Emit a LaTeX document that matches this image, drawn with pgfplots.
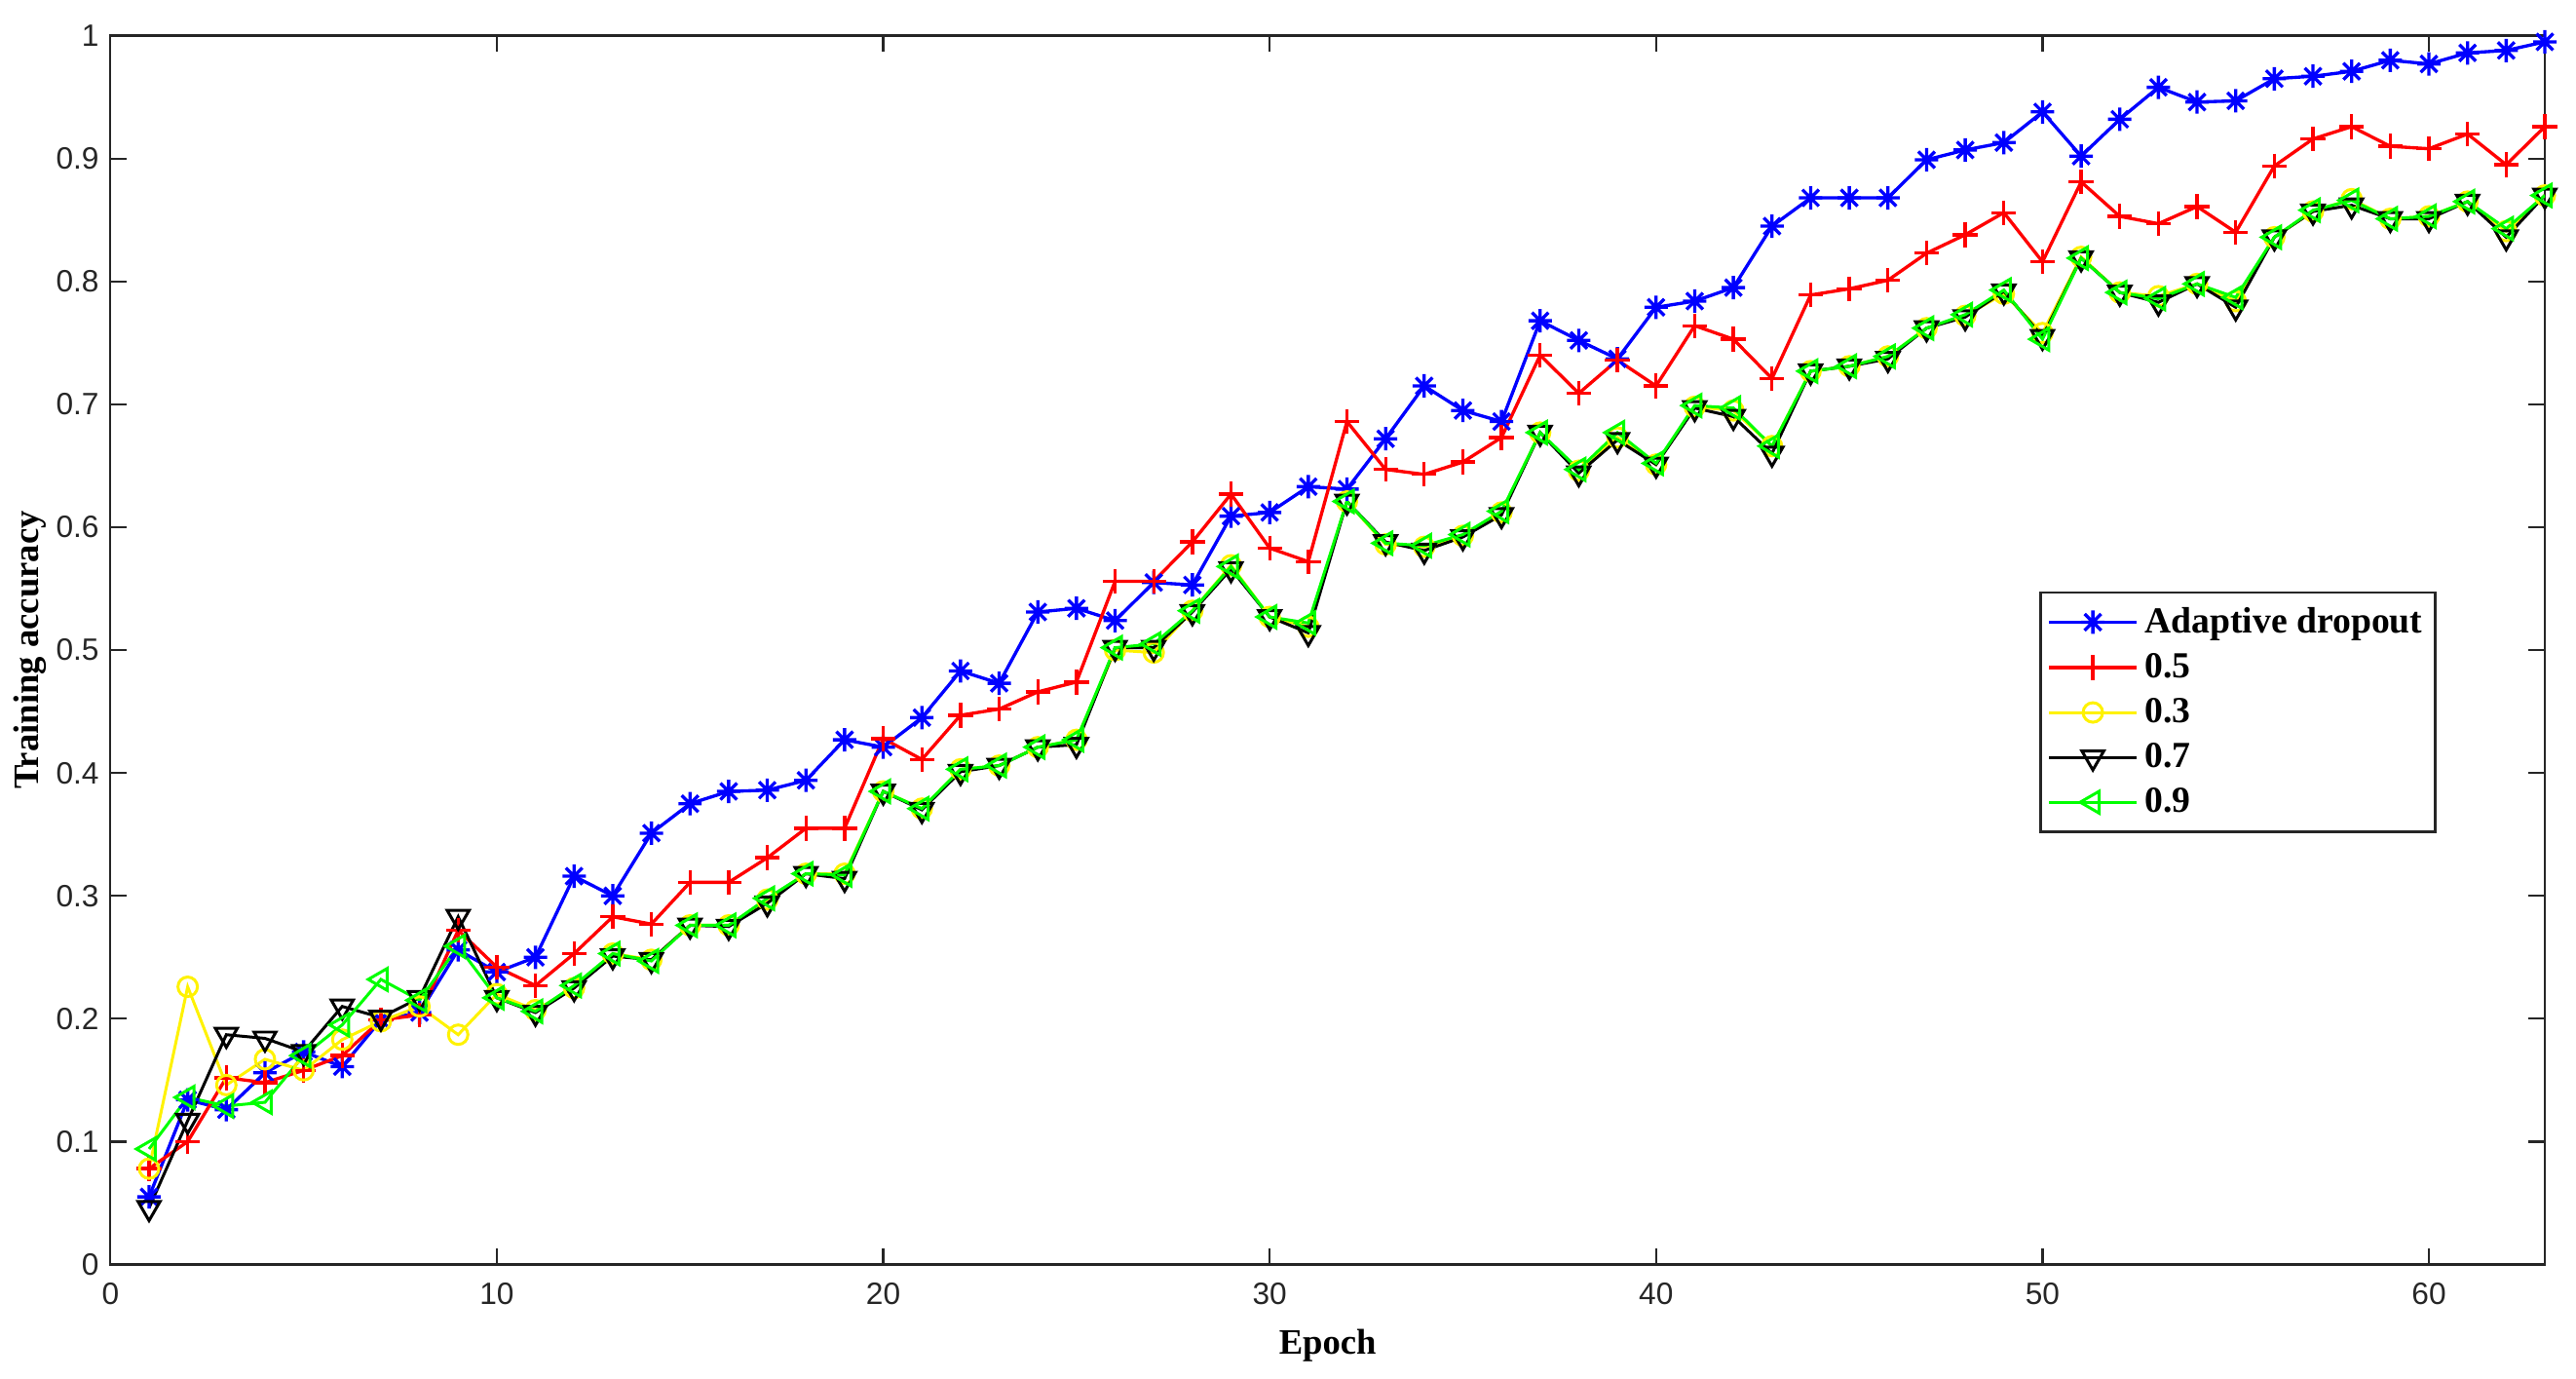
\documentclass[border=0pt]{standalone}
\usepackage{fontspec}
\setmainfont{Liberation Serif}
\newfontfamily\ticksans{Liberation Sans}
\usepackage{pgfplots}
\pgfplotsset{compat=1.18}
\usepackage{pgfplotstable}

% MATLAB style '*' marker: plus and cross together
\pgfdeclareplotmark{mstar}{%
  \pgfpathmoveto{\pgfqpoint{-\pgfplotmarksize}{0pt}}\pgfpathlineto{\pgfqpoint{\pgfplotmarksize}{0pt}}%
  \pgfpathmoveto{\pgfqpoint{0pt}{-\pgfplotmarksize}}\pgfpathlineto{\pgfqpoint{0pt}{\pgfplotmarksize}}%
  \pgfpathmoveto{\pgfqpoint{-0.707\pgfplotmarksize}{-0.707\pgfplotmarksize}}\pgfpathlineto{\pgfqpoint{0.707\pgfplotmarksize}{0.707\pgfplotmarksize}}%
  \pgfpathmoveto{\pgfqpoint{-0.707\pgfplotmarksize}{0.707\pgfplotmarksize}}\pgfpathlineto{\pgfqpoint{0.707\pgfplotmarksize}{-0.707\pgfplotmarksize}}%
  \pgfusepathqstroke}

\pgfplotstableread{
e acc
1 0.055
2 0.134
3 0.126
4 0.156
5 0.173
6 0.161
7 0.199
8 0.205
9 0.256
10 0.238
11 0.250
12 0.316
13 0.300
14 0.351
15 0.375
16 0.385
17 0.386
18 0.394
19 0.427
20 0.421
21 0.445
22 0.483
23 0.473
24 0.531
25 0.534
26 0.524
27 0.555
28 0.553
29 0.609
30 0.612
31 0.633
32 0.631
33 0.672
34 0.715
35 0.695
36 0.686
37 0.768
38 0.752
39 0.737
40 0.779
41 0.784
42 0.795
43 0.845
44 0.868
45 0.868
46 0.868
47 0.899
48 0.907
49 0.913
50 0.938
51 0.902
52 0.932
53 0.958
54 0.946
55 0.947
56 0.965
57 0.967
58 0.971
59 0.980
60 0.977
61 0.986
62 0.988
63 0.995
}\adaptive

\pgfplotstableread{
e acc
1 0.078
2 0.100
3 0.152
4 0.148
5 0.158
6 0.170
7 0.199
8 0.203
9 0.272
10 0.242
11 0.227
12 0.253
13 0.283
14 0.277
15 0.311
16 0.311
17 0.331
18 0.355
19 0.355
20 0.428
21 0.411
22 0.447
23 0.452
24 0.466
25 0.474
26 0.556
27 0.556
28 0.588
29 0.627
30 0.583
31 0.572
32 0.686
33 0.647
34 0.643
35 0.653
36 0.673
37 0.740
38 0.709
39 0.736
40 0.715
41 0.764
42 0.753
43 0.721
44 0.789
45 0.794
46 0.801
47 0.823
48 0.838
49 0.856
50 0.816
51 0.881
52 0.853
53 0.847
54 0.861
55 0.840
56 0.894
57 0.916
58 0.926
59 0.910
60 0.908
61 0.920
62 0.895
63 0.926
}\pfive

\pgfplotstableread{
e acc
1 0.078
2 0.226
3 0.146
4 0.167
5 0.158
6 0.183
7 0.198
8 0.210
9 0.187
10 0.220
11 0.207
12 0.225
13 0.253
14 0.248
15 0.276
16 0.276
17 0.297
18 0.318
19 0.318
20 0.385
21 0.371
22 0.403
23 0.406
24 0.421
25 0.427
26 0.500
27 0.498
28 0.532
29 0.569
30 0.527
31 0.519
32 0.621
33 0.586
34 0.584
35 0.593
36 0.612
37 0.677
38 0.646
39 0.673
40 0.651
41 0.698
42 0.695
43 0.666
44 0.727
45 0.731
46 0.739
47 0.762
48 0.772
49 0.790
50 0.758
51 0.820
52 0.791
53 0.788
54 0.798
55 0.784
56 0.836
57 0.857
58 0.867
59 0.851
60 0.853
61 0.865
62 0.841
63 0.870
}\pthree

\pgfplotstableread{
e acc
1 0.046
2 0.117
3 0.187
4 0.184
5 0.173
6 0.210
7 0.201
8 0.217
9 0.283
10 0.217
11 0.205
12 0.225
13 0.251
14 0.248
15 0.276
16 0.275
17 0.294
18 0.318
19 0.314
20 0.385
21 0.370
22 0.401
23 0.406
24 0.421
25 0.423
26 0.502
27 0.502
28 0.531
29 0.566
30 0.527
31 0.514
32 0.621
33 0.588
34 0.581
35 0.592
36 0.610
37 0.677
38 0.644
39 0.671
40 0.651
41 0.697
42 0.690
43 0.660
44 0.727
45 0.731
46 0.737
47 0.762
48 0.771
49 0.792
50 0.755
51 0.819
52 0.791
53 0.783
54 0.798
55 0.779
56 0.836
57 0.857
58 0.862
59 0.851
60 0.851
61 0.865
62 0.836
63 0.870
}\pseven

\pgfplotstableread{
e acc
1 0.094
2 0.136
3 0.129
4 0.132
5 0.170
6 0.195
7 0.232
8 0.215
9 0.259
10 0.217
11 0.206
12 0.227
13 0.253
14 0.247
15 0.276
16 0.276
17 0.298
18 0.318
19 0.317
20 0.385
21 0.371
22 0.403
23 0.406
24 0.421
25 0.427
26 0.502
27 0.505
28 0.532
29 0.568
30 0.527
31 0.522
32 0.621
33 0.587
34 0.585
35 0.594
36 0.613
37 0.677
38 0.647
39 0.677
40 0.652
41 0.699
42 0.697
43 0.666
44 0.727
45 0.731
46 0.739
47 0.762
48 0.773
49 0.793
50 0.753
51 0.819
52 0.791
53 0.786
54 0.798
55 0.787
56 0.836
57 0.858
58 0.866
59 0.851
60 0.853
61 0.865
62 0.843
63 0.870
}\pnine

\begin{document}
\begin{tikzpicture}
\begin{axis}[
  scale only axis,
  width=749.7pt, height=378.3pt,
  xmin=0, xmax=63, ymin=0, ymax=1,
  xtick={0,10,...,60},
  ytick={0,0.1,...,1.01},
  yticklabels={0,0.1,0.2,0.3,0.4,0.5,0.6,0.7,0.8,0.9,1},
  tick align=inside,
  major tick length=5pt,
  axis line style={black!85, line width=0.7pt},
  every tick/.style={black!85, line width=0.7pt},
  /pgf/number format/assume math mode=true,
  tick label style={font=\ticksans\fontsize{9.5}{11}\selectfont, black!85},
  xticklabel style={yshift=-2pt},
  xlabel={Epoch},
  ylabel={Training accuracy},
  label style={font=\bfseries\fontsize{11}{13}\selectfont},
  xlabel style={at={(axis description cs:0.5,-0.0660)}, anchor=center},
  ylabel style={at={(axis description cs:-0.0332,0.5)}, anchor=center},
  legend style={at={(rel axis cs:0.9556,0.548)}, anchor=north east,
    draw=black!85, line width=0.8pt, font=\bfseries\fontsize{11.3}{13}\selectfont,
    row sep=0.8pt, inner xsep=2pt, inner ysep=2.5pt},
  legend cell align=left,
  legend image code/.code={\draw[mark repeat=2, mark phase=2] plot coordinates {(0pt,0pt) (13.5pt,0pt) (27pt,0pt)};},
]
\addplot[blue, line width=1pt, mark=mstar, mark size=3.6pt, mark options={line width=1pt}] table[x=e, y=acc] {\adaptive};
\addlegendentry{Adaptive dropout}
\addplot[red, line width=1pt, mark=+, mark size=3.8pt, mark options={line width=1pt}] table[x=e, y=acc] {\pfive};
\addlegendentry{0.5}
\addplot[yellow, line width=0.9pt, mark=o, mark size=3pt, mark options={line width=0.9pt}] table[x=e, y=acc] {\pthree};
\addlegendentry{0.3}
\addplot[black, line width=0.9pt, mark=triangle, mark size=3.9pt, mark options={rotate=180, line width=0.9pt}] table[x=e, y=acc] {\pseven};
\addlegendentry{0.7}
\addplot[green, line width=0.9pt, mark=triangle, mark size=3.9pt, mark options={rotate=90, line width=0.9pt}] table[x=e, y=acc] {\pnine};
\addlegendentry{0.9}
\end{axis}
\pgfresetboundingbox
\useasboundingbox ([shift={(-34pt,-35pt)}]current axis.south west) rectangle ([shift={(9.6pt,11pt)}]current axis.north east);
\end{tikzpicture}
\end{document}
